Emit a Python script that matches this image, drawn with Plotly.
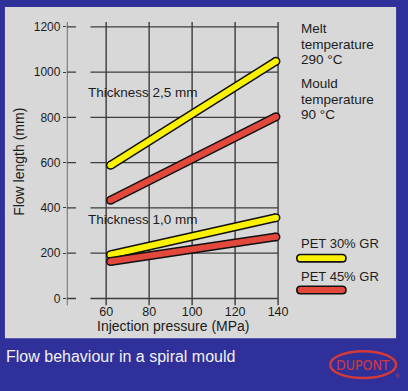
import plotly.graph_objects as go

W, H = 408, 391

# ---- data ----
pressure = [62, 139]                      # Injection pressure (MPa)
pet30_25 = [588, 1048]                    # PET 30% GR, thickness 2.5 mm
pet45_25 = [434, 803]                     # PET 45% GR, thickness 2.5 mm
pet30_10 = [193, 357]                     # PET 30% GR, thickness 1.0 mm
pet45_10 = [163, 272]                     # PET 45% GR, thickness 1.0 mm
x_ticks = [60, 80, 100, 120, 140]
y_ticks = [0, 200, 400, 600, 800, 1000, 1200]
series_names = ["PET 30% GR", "PET 45% GR"]

YELLOW = "#FAF200"
RED = "#E2483C"
BLUE = "#30309A"
PANEL = "#D8D8D8"
GRID = "#3C3C3C"
TXT = "#1C1C1C"
FONT = "Liberation Sans"

X0, X1 = 41.7, 141.4
Y0, Y1 = -31, 1222

def px(x):
    return x / W

def py(y):
    return 1 - y / H

fig = go.Figure()

series = [
    (pet30_25, YELLOW), (pet45_25, RED), (pet30_10, YELLOW), (pet45_10, RED)
]
for ys, col in series:
    fig.add_trace(go.Scatter(x=pressure, y=ys, mode="lines+markers",
                             line=dict(color="#111", width=9),
                             marker=dict(color="#111", size=9),
                             showlegend=False, hoverinfo="skip", cliponaxis=False))
    fig.add_trace(go.Scatter(x=pressure, y=ys, mode="lines+markers",
                             line=dict(color=col, width=6),
                             marker=dict(color=col, size=6),
                             showlegend=False, hoverinfo="skip", cliponaxis=False))

shapes = []
# gray panel
shapes.append(dict(type="rect", xref="paper", yref="paper", x0=px(5), x1=px(403),
                   y0=py(338), y1=py(5), fillcolor=PANEL, line_width=0, layer="below"))
# vertical gridlines
for xv in x_ticks:
    shapes.append(dict(type="line", xref="x", yref="y", x0=xv, x1=xv, y0=Y0, y1=Y1,
                       line=dict(color=GRID, width=1.4), layer="below"))
# left axis line
shapes.append(dict(type="line", xref="x", yref="y", x0=X0, x1=X0, y0=Y0, y1=Y1,
                   line=dict(color=GRID, width=1.4), layer="below"))
# horizontal gridlines (broken near the axis)
for yv in y_ticks:
    shapes.append(dict(type="line", xref="x", yref="y", x0=X0, x1=46.0, y0=yv, y1=yv,
                       line=dict(color=GRID, width=1.4), layer="below"))
    shapes.append(dict(type="line", xref="x", yref="y", x0=52.7, x1=140, y0=yv, y1=yv,
                       line=dict(color=GRID, width=1.4), layer="below"))

# legend swatches (rounded bars)
def pill(x0, x1, yc, h, col):
    r = h / 2
    k = 4 / 3 * r
    path = f"M{px(x0 + r)},{py(yc - r)} L{px(x1 - r)},{py(yc - r)} "
    path += f"C{px(x1 - r + k)},{py(yc - r)} {px(x1 - r + k)},{py(yc + r)} {px(x1 - r)},{py(yc + r)} "
    path += f"L{px(x0 + r)},{py(yc + r)} "
    path += f"C{px(x0 + r - k)},{py(yc + r)} {px(x0 + r - k)},{py(yc - r)} {px(x0 + r)},{py(yc - r)} Z"
    return dict(type="path", xref="paper", yref="paper", path=path, fillcolor=col,
                line=dict(color="#111", width=1.6))

shapes.append(pill(302, 352, 257.5, 7.5, YELLOW))
shapes.append(pill(302, 352, 289.5, 7.5, RED))

# DuPont oval
shapes.append(dict(type="circle", xref="paper", yref="paper", x0=px(336), x1=px(403),
                   y0=py(378), y1=py(351), line=dict(color="#D23A3A", width=2.4)))

annotations = []

def txt(x, y, s, size=13, color=TXT, xanchor="left", family=FONT, **kw):
    annotations.append(dict(x=px(x), y=py(y), xref="paper", yref="paper", text=s,
                            showarrow=False, xanchor=xanchor, yanchor="middle",
                            font=dict(family=family, size=size, color=color), **kw))

txt(87, 91, "Thickness 2,5 mm", size=13.5)
txt(87, 219, "Thickness 1,0 mm", size=13.5)
for i, s in enumerate(["Melt", "temperature", "290 °C"]):
    txt(304, 27 + i * 15.5, s, size=13.5)
for i, s in enumerate(["Mould", "temperature", "90 °C"]):
    txt(304, 82 + i * 15.5, s, size=13.5)
txt(304, 243, series_names[0], size=13)
txt(304, 276, series_names[1], size=13)
txt(177, 326, "Injection pressure (MPa)", size=14, xanchor="center")
txt(20, 161, "Flow length (mm)", size=14, xanchor="center", textangle=-90)
txt(4, 356, "Flow behaviour in a spiral mould", size=16, color="#F2F2F2")
txt(369.5, 365, "DUPONT", size=14, color="#D23A3A", xanchor="center",
    family="Liberation Sans Narrow, DejaVu Sans Condensed, Liberation Sans")
txt(404, 376, "®", size=6, color="#D23A3A", xanchor="center")

fig.update_layout(
    width=W, height=H,
    margin=dict(l=0, r=0, t=0, b=0),
    paper_bgcolor=BLUE,
    plot_bgcolor="rgba(0,0,0,0)",
    shapes=shapes,
    annotations=annotations,
    xaxis=dict(domain=[68 / W, 286 / W], range=[X0, X1], showgrid=False, zeroline=False,
               showline=False, ticks="", tickvals=x_ticks, ticktext=[str(v) for v in x_ticks],
               tickfont=dict(family=FONT, size=12.5, color=TXT), fixedrange=True,
               ticklabelstandoff=-3),
    yaxis=dict(domain=[1 - 305 / H, 1 - 20 / H], range=[Y0, Y1], showgrid=False, zeroline=False,
               showline=False, ticks="outside", ticklen=3, tickcolor=GRID, tickwidth=1.4,
               tickvals=y_ticks, ticktext=[str(v) for v in y_ticks],
               tickfont=dict(family=FONT, size=12, color=TXT), fixedrange=True),
    showlegend=False,
)

fig.write_html("out.html", config={"displayModeBar": False},
               post_script="document.body.style.margin='0';document.body.style.overflow='hidden';")
